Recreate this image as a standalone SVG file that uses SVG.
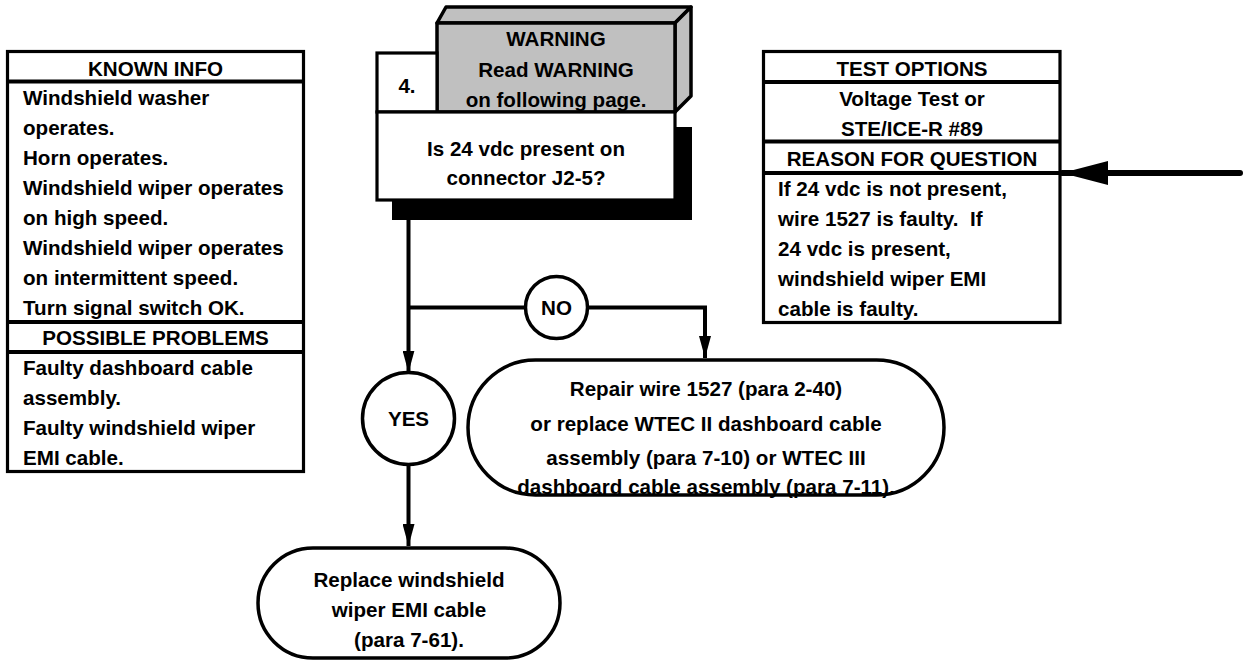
<svg xmlns="http://www.w3.org/2000/svg" width="1244" height="669" viewBox="0 0 1244 669">
<defs>
<style>
.t{font-family:"Liberation Sans",Arial,Helvetica,sans-serif;font-weight:bold;font-size:20.6px;fill:#000}
.c{text-anchor:middle}
.pre{white-space:pre}
.box{fill:#fff;stroke:#000;stroke-width:3.2}
.dv{stroke:#000;stroke-width:4}
.gray{fill:#c0c0c0;stroke:#000;stroke-width:3.5;stroke-linejoin:round}
.shape{fill:#fff;stroke:#000;stroke-width:3.5}
.ln{fill:none;stroke:#000;stroke-width:4}
</style>
<marker id="ah" markerUnits="userSpaceOnUse" markerWidth="22" markerHeight="12" refX="22" refY="6" orient="auto">
<path d="M0,0 L22,6 L0,12 z" fill="#000"/>
</marker>
<marker id="bh" markerUnits="userSpaceOnUse" markerWidth="48" markerHeight="24" refX="46" refY="12" orient="auto">
<path d="M0,0 L46,12 L0,24 z" fill="#000"/>
</marker>
</defs>
<rect width="1244" height="669" fill="#fff"/>

<g id="known-info">
<rect class="box" x="7.5" y="51.5" width="296" height="420"/>
<line class="dv" x1="7.5" y1="81.5" x2="303.5" y2="81.5"/>
<line class="dv" x1="7.5" y1="322" x2="303.5" y2="322"/>
<line class="dv" x1="7.5" y1="352" x2="303.5" y2="352"/>
<text class="t c" x="155.5" y="75.5">KNOWN INFO</text>
<text class="t" x="23" y="105">Windshield washer</text>
<text class="t" x="23" y="135">operates.</text>
<text class="t" x="23" y="165">Horn operates.</text>
<text class="t" x="23" y="195">Windshield wiper operates</text>
<text class="t" x="23" y="225">on high speed.</text>
<text class="t" x="23" y="255">Windshield wiper operates</text>
<text class="t" x="23" y="285">on intermittent speed.</text>
<text class="t" x="23" y="315">Turn signal switch OK.</text>
<text class="t c" x="155.5" y="345">POSSIBLE PROBLEMS</text>
<text class="t" x="23" y="375">Faulty dashboard cable</text>
<text class="t" x="23" y="405">assembly.</text>
<text class="t" x="23" y="435">Faulty windshield wiper</text>
<text class="t" x="23" y="465">EMI cable.</text>
</g>

<g id="test-options">
<rect class="box" x="763.5" y="51.5" width="296.5" height="271"/>
<line class="dv" x1="763.5" y1="82" x2="1060" y2="82"/>
<line class="dv" x1="763.5" y1="141.5" x2="1060" y2="141.5"/>
<line class="dv" x1="763.5" y1="173" x2="1060" y2="173"/>
<text class="t c" x="912" y="75.5">TEST OPTIONS</text>
<text class="t c" x="912" y="106">Voltage Test or</text>
<text class="t c" x="912" y="136">STE/ICE-R #89</text>
<text class="t c" x="912" y="166">REASON FOR QUESTION</text>
<text class="t" x="778" y="196">If 24 vdc is not present,</text>
<text class="t pre" x="778" y="226">wire 1527 is faulty.  If</text>
<text class="t" x="778" y="256">24 vdc is present,</text>
<text class="t" x="778" y="286">windshield wiper EMI</text>
<text class="t" x="778" y="316">cable is faulty.</text>
</g>

<g id="step-4">
<rect x="392" y="127" width="300" height="93" fill="#000"/>
<polygon class="gray" points="437,23 446,7 691,7 675,23"/>
<polygon class="gray" points="675,23 691,7 691,96 675,112"/>
<rect class="gray" x="437" y="23" width="238" height="89"/>
<rect class="box" x="377" y="53" width="60" height="59"/>
<rect class="box" x="377" y="112" width="298" height="88"/>
<text class="t c" x="556" y="46">WARNING</text>
<text class="t c" x="556" y="77">Read WARNING</text>
<text class="t c" x="556" y="107">on following page.</text>
<text class="t c" x="407" y="93">4.</text>
<text class="t c" x="526" y="156">Is 24 vdc present on</text>
<text class="t c" x="526" y="185">connector J2-5?</text>
</g>

<g id="no-label">
<circle class="shape" cx="556.5" cy="307.5" r="31"/>
<text class="t c" x="556.5" y="314.5">NO</text>
</g>

<g id="yes-label">
<circle class="shape" cx="408.5" cy="418.5" r="46"/>
<text class="t c" x="408.5" y="425.5">YES</text>
</g>

<g id="repair-wire">
<rect class="shape" x="468" y="360" width="476" height="135" rx="67.5" ry="67.5"/>
<text class="t c" x="706" y="396">Repair wire 1527 (para 2-40)</text>
<text class="t c" x="706" y="431">or replace WTEC II dashboard cable</text>
<text class="t c" x="706" y="465">assembly (para 7-10) or WTEC III</text>
<text class="t c" x="706" y="494">dashboard cable assembly (para 7-11).</text>
</g>

<g id="replace-cable">
<rect class="shape" x="258" y="548" width="302" height="110" rx="55" ry="55"/>
<text class="t c" x="409" y="587">Replace windshield</text>
<text class="t c" x="409" y="617">wiper EMI cable</text>
<text class="t c" x="409" y="647">(para 7-61).</text>
</g>

<g id="connectors">
<line class="ln" x1="408.5" y1="220" x2="408.5" y2="372.5" marker-end="url(#ah)"/>
<line class="ln" x1="408.5" y1="307.5" x2="525.5" y2="307.5"/>
<polyline class="ln" points="587.5,307.5 705,307.5 705,358" marker-end="url(#ah)"/>
<line class="ln" x1="408.5" y1="464.5" x2="408.5" y2="546" marker-end="url(#ah)"/>
<line x1="1240" y1="173" x2="1062" y2="173" stroke="#000" stroke-width="6" stroke-linecap="round" marker-end="url(#bh)"/>
</g>
</svg>
